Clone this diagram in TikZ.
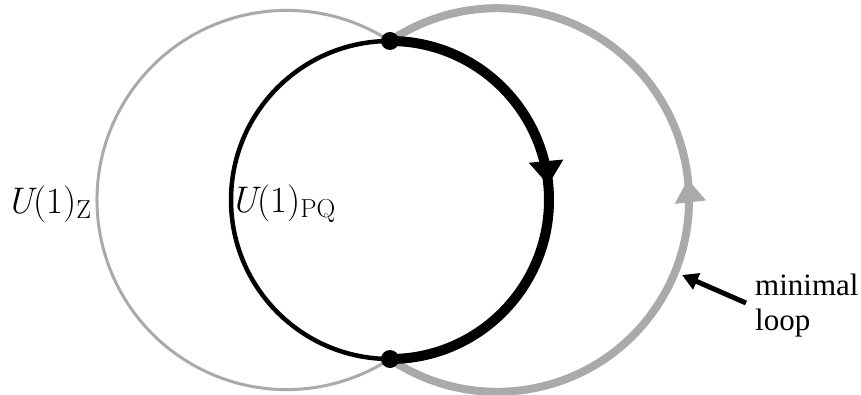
\documentclass[tikz,border=0pt]{standalone}
\usepackage{fontspec}
\newfontfamily\timesfont{Liberation Serif}
\usetikzlibrary{arrows.meta,decorations.markings}
\definecolor{lgray}{RGB}{170,170,170}
\newcommand{\sublab}[1]{\raisebox{-5pt}{\fontsize{26}{26}\selectfont #1}}
\tikzset{
  thinblack/.style={line width=4.5pt, black},
  thickblack/.style={line width=10pt, black},
  thingray/.style={line width=3pt, lgray},
  thickgray/.style={line width=8pt, lgray},
  dotnode/.style={circle, fill=black, inner sep=0pt, minimum size=18pt},
  mathlabel/.style={anchor=base west, inner sep=0pt, font=\fontsize{37}{40}\selectfont},
  textlabel/.style={anchor=base west, inner sep=0pt, align=left, font=\timesfont\fontsize{31}{35}\selectfont},
}
\begin{document}
\begin{tikzpicture}[x=1pt,y=1pt]
\useasboundingbox (0,0) rectangle (861,394);
% centres
\coordinate (cb) at (390,194);
\coordinate (cl) at (286.6,194);
\coordinate (cr) at (497.2,194);
% left thin gray arc
\draw[thingray] (cl) ++(57:189.6) arc[start angle=57, end angle=303, radius=189.6];
% right thick gray arc with up arrow
\draw[thickgray, postaction={decorate},
  decoration={markings, mark=at position 0.525 with {\arrow{Triangle[width=30pt,length=23pt]}}}]
  (cr) ++(-124:191.8) arc[start angle=-124, end angle=124, radius=191.8];
% black circle: thin left half
\draw[thinblack] (cb) ++(90:159) arc[start angle=90, end angle=270, radius=159];
% black circle: thick right half with down arrow
\draw[thickblack, postaction={decorate},
  decoration={markings, mark=at position 0.47 with {\arrow{Triangle[width=33pt,length=24pt]}}}]
  (cb) ++(90:159) arc[start angle=90, end angle=-90, radius=159];
% dots
\node[dotnode] (dtop) at (390,353) {};
\node[dotnode] (dbot) at (390,35) {};
% labels
\node[mathlabel] (lz) at (6,181) {{\itshape U}(1)\sublab{Z}};
\node[mathlabel] (lpq) at (230,182) {{\itshape U}(1)\sublab{PQ}};
\node[textlabel] (ml) at (755,64) {minimal\\loop};
% pointer
\coordinate (pstart) at (746,91);
\coordinate (ptip) at (682,119);
\draw[line width=5pt, -{Triangle[width=17pt,length=16pt]}] (pstart) -- (ptip);
\end{tikzpicture}
\end{document}
